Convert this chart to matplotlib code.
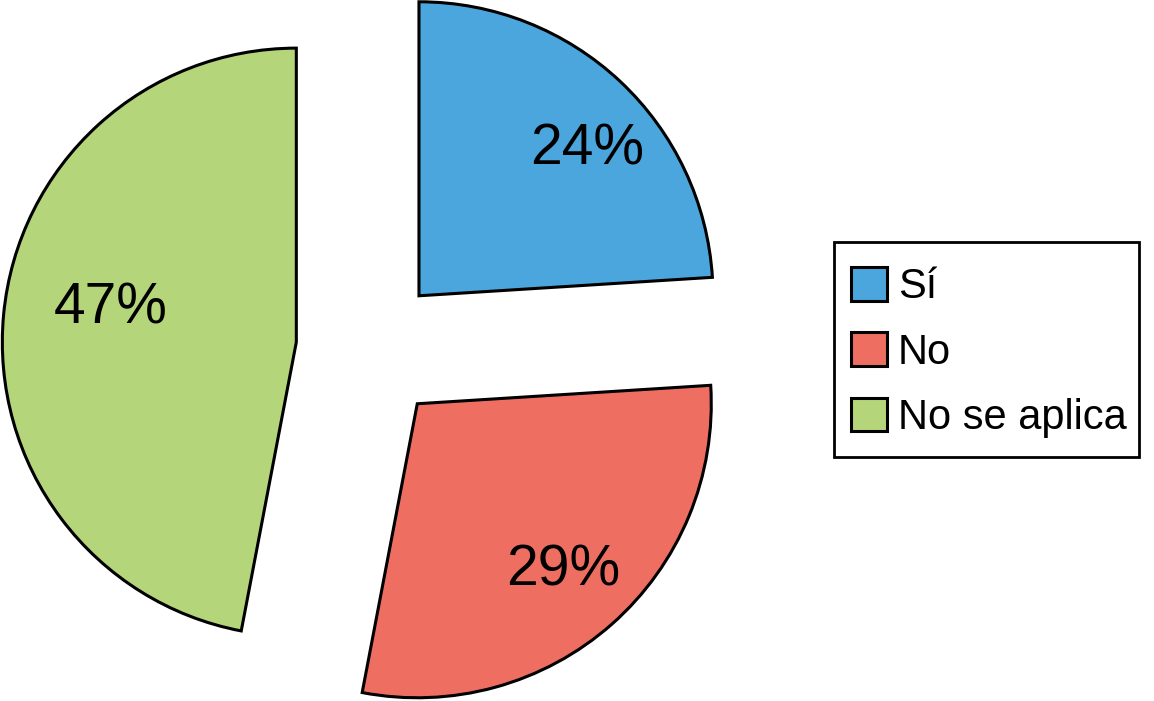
import numpy as np
import matplotlib
matplotlib.use("Agg")
import matplotlib.pyplot as plt
from matplotlib.patches import Rectangle

labels = ["Sí", "No", "No se aplica"]
values = [24, 29, 47]
colors = ["#4aa6dc", "#ef6e62", "#b5d57b"]

# label placement per slice: fraction of radius and angle shift from mid-angle
label_dist = [0.77, 0.74, 0.645]
label_shift = [-4.6, 0.8, -6.7]

plt.rcParams["font.family"] = ["Liberation Sans", "DejaVu Sans"]

fig = plt.figure(figsize=(11.54, 7.01), dpi=100)
ax = fig.add_axes([0, 0, 1, 1])

radius = 294
center = (369, 352)
wedges, texts, autotexts = ax.pie(
    values, colors=colors, startangle=90, counterclock=False,
    explode=[73] * 3, radius=radius, center=center,
    autopct="%d%%", pctdistance=0.75,
    wedgeprops=dict(edgecolor="black", linewidth=2.2, joinstyle="miter"),
    textprops=dict(fontsize=41, color="black"),
)

for w, t, d, s in zip(wedges, autotexts, label_dist, label_shift):
    mid = np.deg2rad((w.theta1 + w.theta2) / 2 + s)
    cx, cy = w.center
    t.set_position((cx + d * radius * np.cos(mid), cy + d * radius * np.sin(mid)))
    t.set_va("center_baseline")

ax.set_xlim(0, 1154)
ax.set_ylim(0, 701)
ax.set_aspect("equal")
ax.axis("off")

# legend without its own frame; box drawn around it with uneven padding
pad_l, pad_r, pad_t, pad_b = 17, 13, 25, 19
leg = fig.legend(wedges, labels, loc="upper left",
                 bbox_to_anchor=((834 + pad_l) / 1154, 1 - (242 + pad_t) / 701),
                 bbox_transform=fig.transFigure, borderaxespad=0,
                 fontsize=30, frameon=False,
                 handlelength=0.87, handleheight=0.87, handletextpad=0.25,
                 labelspacing=0.6, borderpad=0)

fig.canvas.draw()
bb = leg.get_window_extent(fig.canvas.get_renderer())
frame = Rectangle((bb.x0 - pad_l, bb.y0 - pad_b), bb.width + pad_l + pad_r,
                  bb.height + pad_t + pad_b, transform=None,
                  facecolor="none", edgecolor="black", linewidth=2.0)
fig.patches.append(frame)

fig.savefig("out.png", dpi=100)
